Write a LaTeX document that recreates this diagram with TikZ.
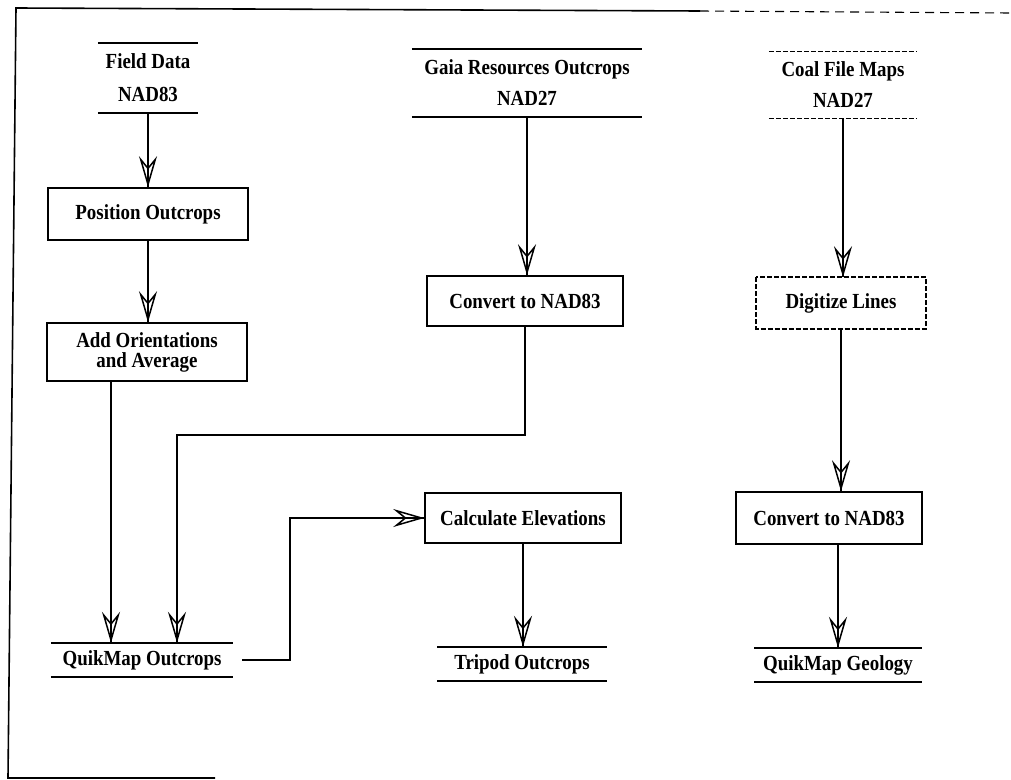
\documentclass[tikz,border=0pt]{standalone}
\usepackage{fontspec}
\setmainfont{Liberation Serif}[FakeStretch=0.88]
\usetikzlibrary{arrows.meta,calc}
\begin{document}
\begin{tikzpicture}[x=1pt,y=-1pt,
  every node/.style={font=\bfseries\fontsize{21.5}{20}\selectfont, inner sep=0pt, align=center},
  proc/.style={draw, line width=1.6pt, minimum width=#1, minimum height=50pt},
  proc/.default=196pt,
  store/.style={minimum width=#1, minimum height=34pt},
  link/.style={line width=1.6pt},
  faint/.style={line width=1.3pt, dash pattern=on 5pt off 2pt},
  arr/.style={link, -{Stealth[open,length=31pt,width=18pt,inset=11pt,line width=1.5pt]}, postaction={draw,-}},
]
\useasboundingbox (0,0) rectangle (1011,779);

% frame
\draw[link] (215,778) -- (8,778) -- (16,8) -- (700,11);
\draw[line width=1.1pt, dash pattern=on 9pt off 6pt] (700,11) -- (1011,13);

% sources
\node[store=100pt, minimum height=70pt, font=\bfseries\fontsize{21.5}{33}\selectfont] (fd) at (148,78) {Field Data\\NAD83};
\draw[link] (fd.north west) -- (fd.north east) (fd.south west) -- (fd.south east);
\node[store=230pt, minimum height=68pt, font=\bfseries\fontsize{21.5}{31}\selectfont] (gaia) at (527,83) {Gaia Resources Outcrops\\NAD27};
\draw[link] (gaia.north west) -- (gaia.north east) (gaia.south west) -- (gaia.south east);
\node[store=148pt, minimum height=66pt, font=\bfseries\fontsize{21.5}{31}\selectfont] (coal) at (843,85) {Coal File Maps\\NAD27};
\draw[faint] (coal.north west) -- (coal.north east) (coal.south west) -- (coal.south east);

% processes
\node[proc=200pt, minimum height=52pt] (pos) at (148,214) {Position Outcrops};
\node[proc=200pt, minimum height=58pt] (add) at (147,352) {Add Orientations\\and Average};
\node[proc] (conv1) at (525,301) {Convert to NAD83};
\node[proc=168pt, draw=none] (dig) at (841,303) {Digitize Lines};
\draw[faint, line width=1.5pt] (dig.north west) rectangle (dig.south east);
\node[proc] (calc) at (523,518) {Calculate Elevations};
\node[proc=186pt, minimum height=52pt] (conv2) at (829,518) {Convert to NAD83};

% outputs
\node[store=182pt] (qo) at (142,660) {QuikMap Outcrops};
\draw[link] (qo.north west) -- (qo.north east) (qo.south west) -- (qo.south east);
\node[store=169pt] (tri) at (522,664) {Tripod Outcrops};
\draw[link] (tri.north west) -- (tri.north east) (tri.south west) -- (tri.south east);
\node[store=167pt] (qg) at (838,665) {QuikMap Geology};
\draw[link] (qg.north west) -- (qg.north east) (qg.south west) -- (qg.south east);

% connectors
\coordinate (j1) at (177,435);
\coordinate (j2) at (290,518);
\draw[arr] (fd.south) -- (fd.south |- pos.north);
\draw[arr] (pos.south) -- (pos.south |- add.north);
\draw[arr] ([xshift=-36pt]add.south) -- ([xshift=-36pt]add.south |- qo.north);
\draw[arr] (gaia.south) -- (gaia.south |- conv1.north);
\draw[arr] (conv1.south) |- (j1) -- (j1 |- qo.north);
\draw[arr] ([xshift=9pt]qo.east) -| (j2) -- (calc.west);
\draw[arr] (calc.south) -- (calc.south |- tri.north);
\draw[arr] (coal.south) -- (coal.south |- dig.north);
\draw[arr] (dig.south) -- (dig.south |- conv2.north);
\draw[arr] (qg.north |- conv2.south) -- (qg.north);
\end{tikzpicture}
\end{document}
